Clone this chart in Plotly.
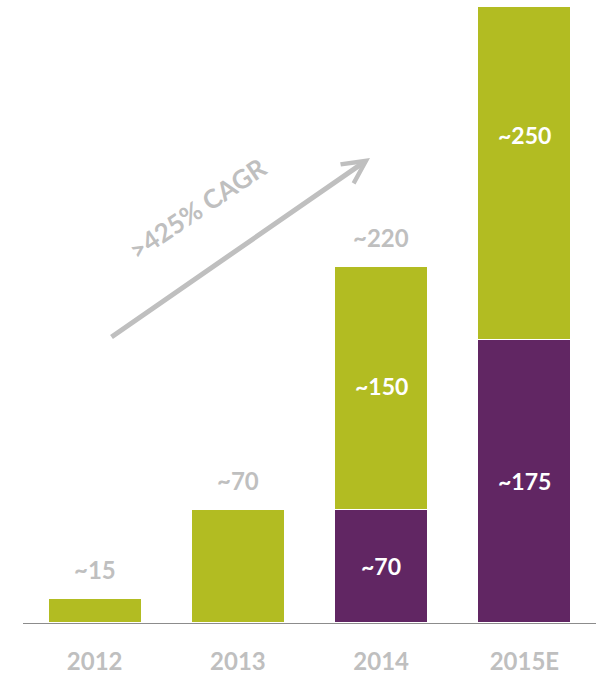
import plotly.graph_objects as go

# Data
categories = ["2012", "2013", "2014", "2015E"]
purple_values = [0, 0, 70, 175]          # lower (purple) segment
green_bar_values = [15, 70, 150, 206]    # upper (green) segment as drawn
green_label_values = [15, 70, 150, 250]  # values stated in labels
purple_labels = ["", "", "~70", "~175"]
green_labels = ["", "", "~150", "~250"]
total_labels = ["~15", "~70", "~220", ""]
cagr_text = ">425% CAGR"

GREEN = "#B2BC22"
PURPLE = "#612663"
GRAY = "#BFBFBF"
FONT = "Lato"

fig = go.Figure()
fig.add_trace(go.Bar(x=categories, y=purple_values, marker_color=PURPLE,
                     marker_line_color="white", marker_line_width=1.5))
fig.add_trace(go.Bar(x=categories, y=green_bar_values, marker_color=GREEN,
                     marker_line_color="white", marker_line_width=1.5))

annotations = []
for i, c in enumerate(categories):
    # category axis: annotation x given as category index
    if total_labels[i]:
        annotations.append(dict(x=i, y=purple_values[i] + green_bar_values[i], text=total_labels[i],
                                showarrow=False, yshift=29, xanchor="center", yanchor="middle",
                                font=dict(family=FONT, size=24, color=GRAY, weight="bold")))
    if purple_labels[i]:
        annotations.append(dict(x=i, y=purple_values[i] / 2, text=purple_labels[i], showarrow=False,
                                xanchor="center", yanchor="middle",
                                font=dict(family=FONT, size=23, color="white", weight="bold")))
    if green_labels[i]:
        annotations.append(dict(x=i, y=purple_values[i] + green_label_values[i] / 2, text=green_labels[i],
                                showarrow=False, xanchor="center", yanchor="middle", yshift=2,
                                font=dict(family=FONT, size=23, color="white", weight="bold")))

# growth arrow
annotations.append(dict(xref="paper", yref="paper", x=0.6056, y=0.7464, ax=-260, ay=180,
                        showarrow=True, arrowhead=5, arrowsize=0.9,
                        arrowwidth=5, arrowcolor=GRAY, text=""))
annotations.append(dict(xref="paper", yref="paper", x=0.3054, y=0.6661, text=cagr_text, showarrow=False,
                        xanchor="center", yanchor="middle",
                        textangle=-34, font=dict(family=FONT, size=26, color=GRAY, weight="bold")))

fig.update_layout(
    barmode="stack",
    bargap=0.348,
    width=596, height=679,
    margin=dict(l=23, r=0, t=0, b=56),
    paper_bgcolor="white", plot_bgcolor="white",
    showlegend=False,
    annotations=annotations,
    xaxis=dict(type="category", categoryorder="array", categoryarray=categories,
               range=[-0.5, 3.5], showline=True, linecolor="#8C8C8C", linewidth=1, showgrid=False,
               zeroline=False, ticks="outside", ticklen=17, tickcolor="rgba(0,0,0,0)",
               tickfont=dict(family=FONT, size=24, color=GRAY, weight="bold")),
    yaxis=dict(range=[0, 384.6], visible=False, showgrid=False, zeroline=False),
)

fig.write_html("out.html", config={"displayModeBar": False},
               post_script="document.body.style.margin='0';document.body.style.overflow='hidden';")
